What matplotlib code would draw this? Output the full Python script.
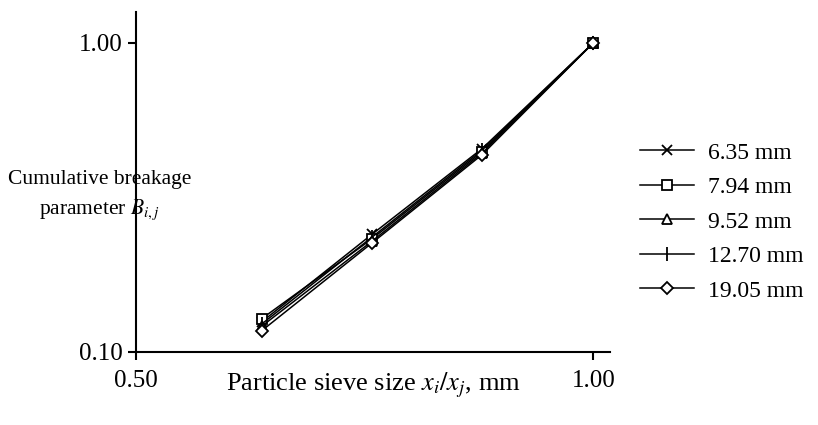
import matplotlib
matplotlib.use("Agg")
import matplotlib.pyplot as plt
from matplotlib.ticker import FixedLocator, FixedFormatter, NullLocator

plt.rcParams['font.family'] = ['Liberation Serif', 'DejaVu Serif']
plt.rcParams['mathtext.fontset'] = 'stix'

# ─── data ─────────────────────────────────────────────────────────────
size_ratio = [0.605, 0.715, 0.845, 1.0]
series_labels = ['6.35 mm', '7.94 mm', '9.52 mm', '12.70 mm', '19.05 mm']
b_635 = [0.125, 0.240, 0.455, 1.0]
b_794 = [0.128, 0.232, 0.445, 1.0]
b_952 = [0.121, 0.228, 0.440, 1.0]
b_1270 = [0.123, 0.235, 0.450, 1.0]
b_1905 = [0.117, 0.225, 0.435, 1.0]
series = [b_635, b_794, b_952, b_1270, b_1905]

markers = ['x', 's', '^', '|', 'D']
msizes = [6.5, 6.5, 6.5, 10, 6]

fig = plt.figure(figsize=(8.18, 4.25), dpi=100)
ax = fig.add_axes([0.166, 0.172, 0.580, 0.800])

for vals, lab, m, ms in zip(series, series_labels, markers, msizes):
    ax.plot(size_ratio, vals, color='black', lw=1.1, marker=m, ms=ms,
            mfc='white', mec='black', mew=1.3, label=lab)

ax.set_xscale('log')
ax.set_yscale('log')
ax.set_xlim(0.5, 1.026)
ax.set_ylim(0.1, 1.26)

ax.xaxis.set_major_locator(FixedLocator([0.5, 1.0]))
ax.xaxis.set_major_formatter(FixedFormatter(['0.50', '1.00']))
ax.xaxis.set_minor_locator(NullLocator())
ax.yaxis.set_major_locator(FixedLocator([0.1, 1.0]))
ax.yaxis.set_major_formatter(FixedFormatter(['0.10', '1.00']))
ax.yaxis.set_minor_locator(NullLocator())

for s in ['top', 'right']:
    ax.spines[s].set_visible(False)
for s in ['left', 'bottom']:
    ax.spines[s].set_linewidth(1.5)
ax.tick_params(labelsize=18, width=1.5, length=6, direction='out')
ax.tick_params(axis='x', pad=7)

ax.set_xlabel('Particle sieve size $x_i/x_j$, mm', fontsize=19)
ax.xaxis.set_label_coords(0.5, -0.055)

# horizontal y label to the left of the axis
fig.text(0.122, 0.538, 'Cumulative breakage\nparameter $B_{i,j}$', fontsize=15.5,
         ha='center', va='center', multialignment='center', linespacing=1.5)

fig.legend(loc='center left', bbox_to_anchor=(0.756, 0.478), frameon=False,
           fontsize=17, handlelength=2.3, labelspacing=0.55, handletextpad=0.6)

fig.savefig('out.png', dpi=100)
